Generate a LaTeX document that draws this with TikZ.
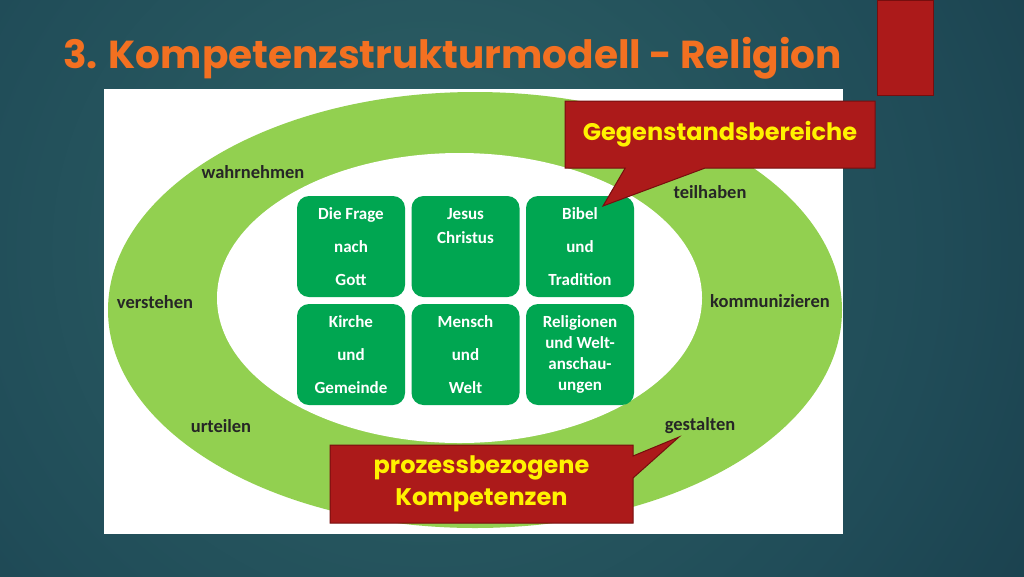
\documentclass[tikz,border=0pt]{standalone}
\usepackage{fontspec}
\setmainfont{Carlito}
\newfontfamily\gothic{Poppins}
\usetikzlibrary{positioning,shapes.callouts}
\definecolor{bgin}{RGB}{46,98,102}
\definecolor{bgmid}{RGB}{32,76,88}
\definecolor{bgdark}{RGB}{22,56,70}
\definecolor{bgout}{RGB}{16,42,56}
\definecolor{ring}{RGB}{146,208,80}
\definecolor{topicgreen}{RGB}{0,166,81}
\definecolor{banner}{RGB}{172,26,26}
\definecolor{bannerline}{RGB}{118,14,14}
\definecolor{titleorange}{RGB}{243,112,33}
\pgfdeclareradialshading{slidebg}{\pgfpoint{0bp}{0bp}}{color(0bp)=(bgin); color(20bp)=(bgmid); color(35bp)=(bgdark); color(50bp)=(bgout)}
\tikzset{
  topic/.style={fill=topicgreen, rounded corners=12, minimum width=108, minimum height=101,
    inner sep=0, align=center, text=white},
  ringlabel/.style={font=\bfseries\fontsize{18.5}{20}\selectfont, text=black!85},
  banner/.style={rectangle callout, fill=banner, draw=bannerline, line width=1,
    text=yellow, align=center, inner sep=0},
}

\begin{document}
\begin{tikzpicture}[x=1pt, y=-1pt]
      \useasboundingbox (0,0) rectangle (1024,576);
      \shade [shading=slidebg] (-200,-350) rectangle (1060,850);
      \fill [banner] (877,0) rectangle (933,95);

      \node [anchor=base west, inner sep=0, text=titleorange, font=\gothic\bfseries\fontsize{39}{41}\selectfont] at (63,68) (title) {3. Kompetenzstrukturmodell - Religion};

      % Bild
      \fill [white] (104,89) rectangle (843,534);
      \fill [ring] (475,310) ellipse [x radius=367, y radius=218];
      \fill [white] (459.5,298) ellipse [x radius=242.5, y radius=145];

      % Gegenstandsbereiche
      \node [topic, font=\bfseries\fontsize{17}{33}\selectfont] at (351,246.5) (frage) {Die Frage\\nach\\Gott};
      \node [topic, font=\bfseries\fontsize{17}{24}\selectfont] at (465.5,246.5) (jesus) {Jesus\\Christus\\[17pt]\mbox{}};
      \node [topic, font=\bfseries\fontsize{17}{33}\selectfont] at (580,246.5) (bibel) {Bibel\\und\\Tradition};
      \node [topic, font=\bfseries\fontsize{17}{33}\selectfont] at (351,354.5) (kirche) {Kirche\\und\\Gemeinde};
      \node [topic, font=\bfseries\fontsize{17}{33}\selectfont] at (465.5,354.5) (mensch) {Mensch\\und\\Welt};
      \node [topic, font=\bfseries\fontsize{17}{20.7}\selectfont] at (580,354.5) (religionen) {Religionen\\und Welt-\\anschau-\\ungen};

      % prozessbezogene Kompetenzen
      \node [ringlabel] at (253,172) (wahr) {wahrnehmen};
      \node [ringlabel] at (710,192) (teil) {teilhaben};
      \node [ringlabel] at (155,302) (verst) {verstehen};
      \node [ringlabel] at (770,301) (komm) {kommunizieren};
      \node [ringlabel] at (221,426) (urteil) {urteilen};
      \node [ringlabel] at (700,426) (gestalt) {gestalten};

      \node [banner, minimum width=310, minimum height=67, font=\gothic\bfseries\fontsize{24}{30}\selectfont,
        callout absolute pointer={(603,206)}, callout pointer width=80] at (720,134.5) (gegen) {Gegenstandsbereiche};
      \node [banner, minimum width=303, minimum height=78, font=\gothic\bfseries\fontsize{24}{32}\selectfont,
        callout absolute pointer={(679,437)}, callout pointer width=22] at (481.5,484) (prozess) {prozessbezogene\\Kompetenzen};
    \end{tikzpicture}
\end{document}
